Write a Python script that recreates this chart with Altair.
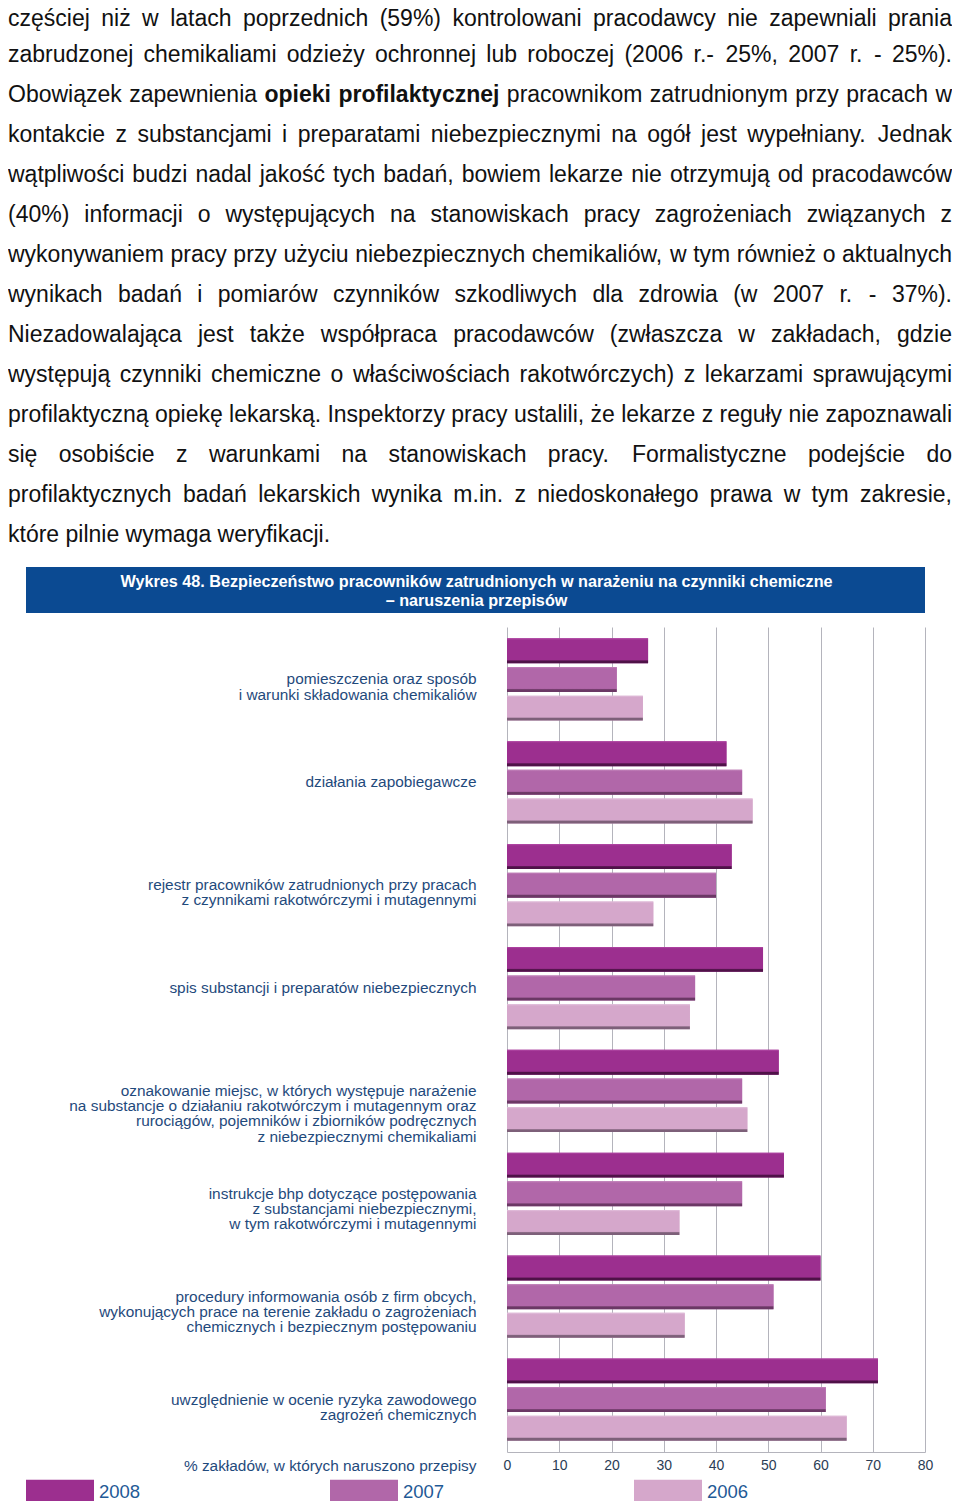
import altair as alt
import pandas as pd

# ---------------- data ----------------
paragraph_lines = [
    "częściej niż w latach poprzednich (59%) kontrolowani pracodawcy nie zapewniali prania",
    "zabrudzonej chemikaliami odzieży ochronnej lub roboczej (2006 r.- 25%, 2007 r. - 25%).",
    "Obowiązek zapewnienia opieki profilaktycznej pracownikom zatrudnionym przy pracach w",
    "kontakcie z substancjami i preparatami niebezpiecznymi na ogół jest wypełniany. Jednak",
    "wątpliwości budzi nadal jakość tych badań, bowiem lekarze nie otrzymują od pracodawców",
    "(40%) informacji o występujących na stanowiskach pracy zagrożeniach związanych z",
    "wykonywaniem pracy przy użyciu niebezpiecznych chemikaliów, w tym również o aktualnych",
    "wynikach badań i pomiarów czynników szkodliwych dla zdrowia (w 2007 r. - 37%).",
    "Niezadowalająca jest także współpraca pracodawców (zwłaszcza w zakładach, gdzie",
    "występują czynniki chemiczne o właściwościach rakotwórczych) z lekarzami sprawującymi",
    "profilaktyczną opiekę lekarską. Inspektorzy pracy ustalili, że lekarze z reguły nie zapoznawali",
    "się osobiście z warunkami na stanowiskach pracy. Formalistyczne podejście do",
    "profilaktycznych badań lekarskich wynika m.in. z niedoskonałego prawa w tym zakresie,",
    "które pilnie wymaga weryfikacji.",
]
bold_line = 2
bold_words = ["opieki", "profilaktycznej"]

banner_lines = [
    "Wykres 48. Bezpieczeństwo pracowników zatrudnionych w narażeniu na czynniki chemiczne",
    "– naruszenia przepisów",
]

categories = [
    "pomieszczenia oraz sposób|i warunki składowania chemikaliów",
    "działania zapobiegawcze",
    "rejestr pracowników zatrudnionych przy pracach|z czynnikami rakotwórczymi i mutagennymi",
    "spis substancji i preparatów niebezpiecznych",
    "oznakowanie miejsc, w których występuje narażenie|na substancje o działaniu rakotwórczym i mutagennym oraz|rurociągów, pojemników i zbiorników podręcznych|z niebezpiecznymi chemikaliami",
    "instrukcje bhp dotyczące postępowania|z substancjami niebezpiecznymi,|w tym rakotwórczymi i mutagennymi",
    "procedury informowania osób z firm obcych,|wykonujących prace na terenie zakładu o zagrożeniach|chemicznych i bezpiecznym postępowaniu",
    "uwzględnienie w ocenie ryzyka zawodowego|zagrożeń chemicznych",
]
years = ["2008", "2007", "2006"]
values_2008 = [27, 42, 43, 49, 52, 53, 60, 71]
values_2007 = [21, 45, 40, 36, 45, 45, 51, 61]
values_2006 = [26, 47, 28, 35, 46, 33, 34, 65]
x_ticks = [0, 10, 20, 30, 40, 50, 60, 70, 80]
axis_title = "% zakładów, w których naruszono przepisy"

# ---------------- styles ----------------
colors = ["#9c2f8f", "#b167a9", "#d5a7cb"]
darks = ["#4f1248", "#6b3865", "#7d6079"]
lights = ["#b34aa6", "#c283ba", "#e2c0dc"]
label_blue = "#1f4a7c"
legend_blue = "#1f5a96"
banner_blue = "#0b4a92"
grid_gray = "#b4b4bc"
FONT = "Liberation Sans"
PFS = 23  # paragraph font size

W, H = 418, 825
PAD = {"left": 499, "top": 619, "right": 27, "bottom": 49}

# --- Arial / Liberation Sans advance widths (1/1000 em) for justified layout ---
_reg = dict(zip("abcdefghijklmnopqrstuvwxyz",
                [556, 556, 500, 556, 556, 278, 556, 556, 222, 222, 500, 222, 833,
                 556, 556, 556, 556, 333, 500, 278, 556, 500, 722, 500, 500, 500]))
_reg.update({"ą": 556, "ć": 500, "ę": 556, "ł": 222, "ń": 556, "ó": 556, "ś": 500,
             "ź": 500, "ż": 500, " ": 278, "%": 889, "(": 333, ")": 333, ",": 278,
             "-": 333, ".": 278, ":": 278, "O": 778, "N": 722, "I": 278, "F": 611, "J": 500})
for d in "0123456789":
    _reg[d] = 556
_bold = dict(zip("abcdefghijklmnopqrstuvwxyz",
                 [556, 611, 556, 611, 556, 333, 611, 611, 278, 278, 556, 278, 889,
                  611, 611, 611, 611, 389, 556, 333, 611, 556, 778, 556, 556, 500]))


def tw(s, bold=False):
    tab = _bold if bold else _reg
    return sum(tab.get(ch, 556) for ch in s) / 1000.0 * PFS


words = []
left_px, right_px = 8, 952
for i, line in enumerate(paragraph_lines):
    ws = line.split(" ")
    flags = [(i == bold_line and w in bold_words) for w in ws]
    widths = [tw(w, b) for w, b in zip(ws, flags)]
    if i < len(paragraph_lines) - 1 and len(ws) > 1:
        gap = (right_px - left_px - sum(widths)) / (len(ws) - 1)
    else:
        gap = tw(" ")
    x = left_px
    base = 22 + 40 * i + (4 if i == 0 else 0)
    for w, b, wd in zip(ws, flags, widths):
        words.append({"word": w, "bold": b, "px": x - (8 + PAD["left"]), "py": base - (8 + PAD["top"])})
        x += wd + gap
words_df = pd.DataFrame(words)

rows = []
for yr, vals in zip(years, [values_2008, values_2007, values_2006]):
    for c, v in zip(categories, vals):
        rows.append({"category": c, "year": yr, "value": v})
df = pd.DataFrame(rows)

x_scale = alt.Scale(domain=[0, 80], nice=False)
y_scale = alt.Scale(domain=categories, paddingInner=0.2, paddingOuter=0.11)
yoff_scale = alt.Scale(domain=years, paddingInner=0.13, paddingOuter=0)

x_axis = alt.Axis(
    values=x_ticks, grid=True, gridColor=grid_gray, gridWidth=1, domainColor=grid_gray,
    ticks=False, labelPadding=6, labelFont=FONT, labelFontSize=14, labelColor="#2b3d55",
    labelFlush=False, title=axis_title, titleX=-31, titleY=13, titleAlign="right",
    titleBaseline="middle", titleFont=FONT, titleFontSize=15.4, titleFontWeight="normal",
    titleColor=label_blue,
)
y_axis = alt.Axis(
    title=None, labelExpr="split(datum.label, '|')", labelAlign="right",
    labelBaseline="middle", labelPadding=31, labelLimit=0, labelFont=FONT,
    labelFontSize=15.4, labelLineHeight=15.2, labelColor=label_blue,
    ticks=False, domain=False, grid=False,
)

enc_x = alt.X("value:Q", scale=x_scale, axis=x_axis)
enc_y = alt.Y("category:N", sort=categories, scale=y_scale, axis=y_axis)
enc_yo = alt.YOffset("year:N", sort=years, scale=yoff_scale)

base = alt.Chart(df).mark_bar().encode(
    x=enc_x, y=enc_y, yOffset=enc_yo,
    color=alt.Color(
        "year:N", sort=years, scale=alt.Scale(domain=years, range=colors),
        legend=alt.Legend(
            title=None, orient="none", legendX=-481, legendY=831,
            direction="horizontal", columns=3, columnPadding=189,
            symbolType="M-1,-0.37H1V0.37H-1Z", symbolSize=4624,
            symbolStrokeWidth=0, symbolOpacity=1,
            labelFont=FONT, labelFontSize=18.5, labelColor=legend_blue,
            labelOffset=5, padding=0,
        ),
    ),
)

overlays = []
for yr, c, d, l in zip(years, colors, darks, lights):
    grad = {
        "gradient": "linear", "x1": 0, "y1": 0, "x2": 0, "y2": 1,
        "stops": [
            {"offset": 0, "color": l},
            {"offset": 0.07, "color": c},
            {"offset": 0.86, "color": c},
            {"offset": 0.91, "color": d},
            {"offset": 1, "color": d},
        ],
    }
    overlays.append(
        alt.Chart(df).transform_filter(alt.datum.year == yr)
        .mark_bar(fill=grad).encode(x=enc_x, y=enc_y, yOffset=enc_yo)
    )

one = pd.DataFrame({"k": [0]})
banner = alt.Chart(one).mark_rect(color=banner_blue).encode(
    x=alt.value(-481), x2=alt.value(W), y=alt.value(-60), y2=alt.value(-14)
)
banner_text = alt.Chart(pd.DataFrame({"t": ["\n".join(banner_lines)]})).mark_text(
    font=FONT, fontSize=16.2, fontWeight="bold", color="white", align="center",
    baseline="alphabetic", lineBreak="\n", lineHeight=19,
).encode(text="t:N", x=alt.value(-30.5), y=alt.value(-40.5))

para_regular = alt.Chart(words_df).transform_filter("!datum.bold").mark_text(
    font=FONT, fontSize=PFS, color="#111111", align="left", baseline="alphabetic",
).encode(text="word:N", x=alt.X("px:Q", scale=None, axis=None), y=alt.Y("py:Q", scale=None, axis=None))

para_bold = alt.Chart(words_df).transform_filter("datum.bold").mark_text(
    font=FONT, fontSize=PFS, fontWeight="bold", color="#111111", align="left",
    baseline="alphabetic",
).encode(text="word:N", x=alt.X("px:Q", scale=None, axis=None), y=alt.Y("py:Q", scale=None, axis=None))

chart = (
    alt.layer(banner, banner_text, para_regular, para_bold, base, *overlays)
    .properties(width=W, height=H, padding=PAD, autosize="none", background="white")
    .configure_view(stroke=None)
)

chart.save("out.html", embed_options={"renderer": "svg", "actions": False})
